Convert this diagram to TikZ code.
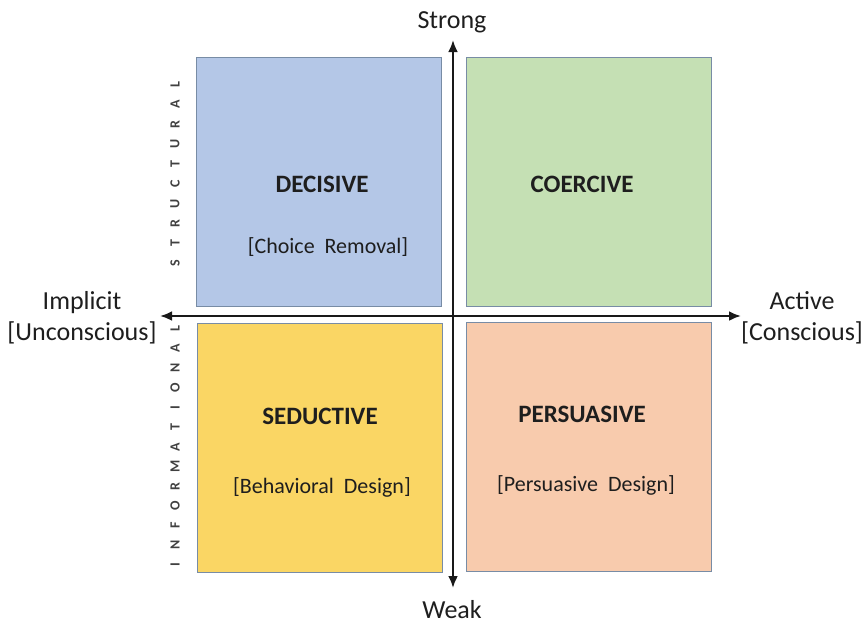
\documentclass[tikz,border=0pt]{standalone}
\usepackage{fontspec}
\setmainfont{Carlito}
\usetikzlibrary{positioning,arrows.meta}
\tikzset{>={Latex[length=12pt,width=10pt]}}

\definecolor{decblue}{RGB}{180,199,231}
\definecolor{coegreen}{RGB}{197,224,180}
\definecolor{sedgold}{RGB}{250,214,100}
\definecolor{perpeach}{RGB}{248,203,173}
\definecolor{boxline}{RGB}{120,140,165}
\definecolor{inktext}{RGB}{30,30,30}

\begin{document}
\begin{tikzpicture}[x=1pt,y=-1pt,
    quad/.style={draw=boxline,line width=0.9pt,inner sep=0pt,
                 minimum width=245pt,minimum height=249pt},
    title/.style={font=\fontsize{25}{29}\selectfont\bfseries,text=inktext},
    subtitle/.style={font=\fontsize{22}{26}\selectfont,text=inktext},
    axislabel/.style={font=\fontsize{26}{31}\selectfont,align=center,text=inktext,
                      inner sep=0pt},
    spaced/.style={font=\fontsize{14}{16}\selectfont\bfseries,rotate=90,
                   text=black!75,inner sep=0pt},
    axis/.style={line width=2.6pt,black!90}]
  \useasboundingbox (0,0) rectangle (866,625);

  % QUADRANTS
  \node[quad,fill=decblue]   (decisive)   at (318.5,181.5) {};
  \node[quad,fill=coegreen]  (coercive)   at (588.5,181.5) {};
  \node[quad,fill=sedgold]   (seductive)  at (320,448)     {};
  \node[quad,fill=perpeach]  (persuasive) at (589,446.5)   {};

  % QUADRANT TEXT
  \node[title]    (decT) at (322,184) {DECISIVE};
  \node[subtitle] (decS) at (328,247) {[Choice\ \ Removal]};
  \node[title]    (coeT) at (582,184) {COERCIVE};
  \node[title]    (sedT) at (320,416) {SEDUCTIVE};
  \node[subtitle] (sedS) at (322,487) {[Behavioral\ \ Design]};
  \node[title]    (perT) at (582,414) {PERSUASIVE};
  \node[subtitle] (perS) at (586,485) {[Persuasive\ \ Design]};

  % AXES
  \coordinate (north) at (453,40);
  \coordinate (south) at (453,588);
  \coordinate (west)  at (160,316);
  \coordinate (east)  at (741,316);
  \draw[axis,<->] (south) -- (north);
  \draw[axis,<->] (west) -- (east);

  % AXIS LABELS
  \node[axislabel,anchor=base] (strong) at (452,28)  {Strong};
  \node[axislabel,anchor=base] (weak)   at (452,618) {Weak};
  \node[axislabel] (implicit) at (82,318)  {Implicit\\{}[Unconscious]};
  \node[axislabel] (active)   at (802,318) {Active\\{}[Conscious]};

  % SPACED SIDE LABELS
  \foreach \c [count=\i] in {S,T,R,U,C,T,U,R,A,L}
    \node[spaced] (st\i) at (175,{263-(\i-1)*19.8}) {\c};
  \foreach \c [count=\i] in {I,N,F,O,R,M,A,T,I,O,N,A,L}
    \node[spaced] (in\i) at (175,{565-(\i-1)*19.7}) {\c};

\end{tikzpicture}
\end{document}
